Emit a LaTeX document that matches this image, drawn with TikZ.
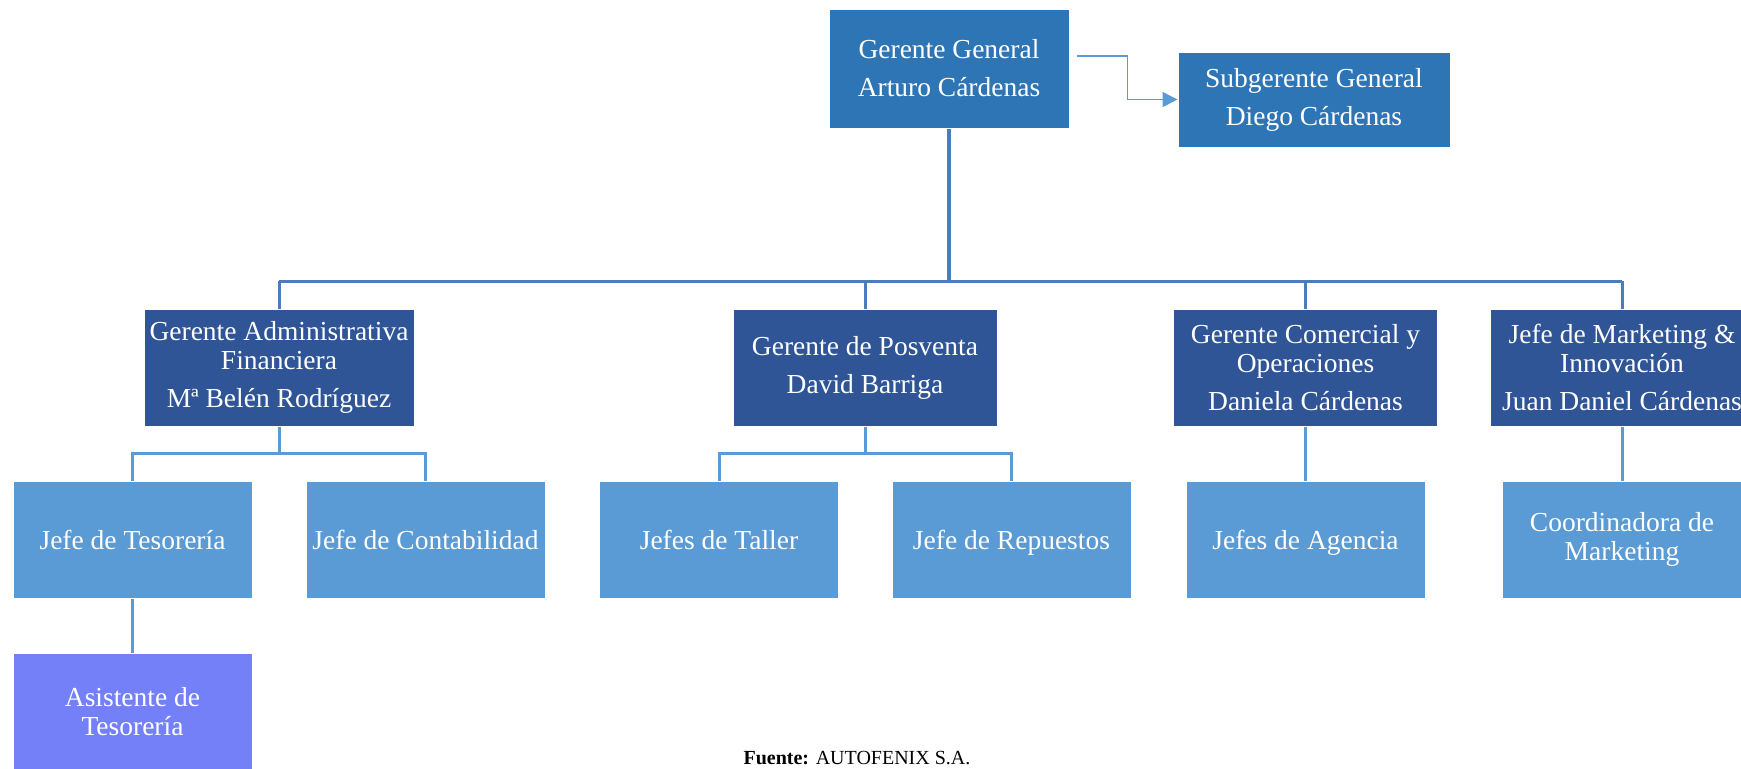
\documentclass[tikz,border=0pt]{standalone}
\usepackage{fontspec}
\setmainfont{Liberation Serif}
\usepackage{xcolor}
\usetikzlibrary{arrows.meta, positioning}

\definecolor{topblue}{HTML}{2E75B6}
\definecolor{midblue}{HTML}{2F5597}
\definecolor{lowblue}{HTML}{5B9BD5}
\definecolor{lilac}{HTML}{7480F8}
\definecolor{linedark}{HTML}{4A7EBB}
\definecolor{linelight}{HTML}{5B9BD5}

\begin{document}
\begin{tikzpicture}[x=0.5pt, y=-0.5pt,
    box/.style={draw=white, line width=0.5pt, text=white, align=center, inner sep=0pt,
        font=\fontsize{13.75}{14.5}\selectfont},
    topbox/.style={box, fill=topblue},
    headbox/.style={box, fill=midblue, minimum width=132pt, minimum height=58.5pt},
    staffbox/.style={box, fill=lowblue, minimum width=119.5pt, minimum height=58.5pt},
    single/.style={execute at begin node=\rule{0pt}{14pt}, execute at end node=\strut},
    trunk/.style={draw=linedark, line width=1.5pt},
    branch/.style={draw=linelight, line width=1.5pt},
    arrowline/.style={draw=linelight, line width=0.75pt, -{Triangle[length=7.5pt, width=7.5pt]}}
  ]
    \useasboundingbox (0,0) rectangle (1741,768);
    \clip (0,0) rectangle (1741,768);

    % Direccion
    \node[topbox, minimum width=120pt, minimum height=59.5pt] (gerente) at (949,68.5)
        {Gerente General\\[4.5pt]Arturo Cárdenas};
    \node[topbox, minimum width=136pt, minimum height=47.5pt] (subgerente) at (1314,99.5)
        {Subgerente General\\[4.5pt]Diego Cárdenas};

    % Gerencias
    \node[headbox, minimum width=135pt] (admin) at (279,367.5)
        {Gerente Administrativa\\Financiera\\[4.5pt]Mª Belén Rodríguez};
    \node[headbox] (posventa) at (865,367.5)
        {Gerente de Posventa\\[4.5pt]David Barriga};
    \node[headbox] (comercial) at (1305.5,367.5)
        {Gerente Comercial y\\Operaciones\\[4.5pt]Daniela Cárdenas};
    \node[headbox] (marketing) at (1622,367.5)
        {Jefe de Marketing \&\\Innovación\\[4.5pt]Juan Daniel Cárdenas};

    % Jefaturas
    \node[staffbox, single] (tesoreria) at (132.5,539.5) {Jefe de Tesorería};
    \node[staffbox, single] (contabilidad) at (425.5,539.5) {Jefe de Contabilidad};
    \node[staffbox, single] (taller) at (719,539.5) {Jefes de Taller};
    \node[staffbox, single] (repuestos) at (1011.5,539.5) {Jefe de Repuestos};
    \node[staffbox, single] (agencia) at (1305.5,539.5) {Jefes de Agencia};
    \node[staffbox] (coordinadora) at (1622,539.5) {Coordinadora de\\Marketing};
    \node[staffbox, fill=lilac] (asistente) at (132.5,712) {Asistente de\\Tesorería};

    % Conectores
    \coordinate (bus) at (0,281);
    \draw[arrowline] ([shift={(7,-12.5)}]gerente.east) -- ++(51,0) |- (subgerente.west);
    \draw[trunk, line width=1.75pt] (gerente.south) -- (gerente.south |- bus);
    \draw[trunk] (admin.north |- bus) -- (marketing.north |- bus);
    \foreach \n in {admin, posventa, comercial, marketing}
        \draw[trunk] (\n.north |- bus) -- (\n.north);

    \path (admin.south) ++(0,27) coordinate (adminfork);
    \path (posventa.south) ++(0,27) coordinate (posventafork);
    \draw[branch] (admin.south) -- (adminfork);
    \draw[branch] (tesoreria.north) |- (adminfork) -| (contabilidad.north);
    \draw[branch] (posventa.south) -- (posventafork);
    \draw[branch] (taller.north) |- (posventafork) -| (repuestos.north);
    \draw[branch] (comercial.south) -- (agencia.north);
    \draw[branch] (marketing.south) -- (coordinadora.north);
    \draw[branch] (tesoreria.south) -- (asistente.north);

    \node[font=\fontsize{10}{12}\selectfont] (fuente) at (857,758)
        {\textbf{Fuente:} AUTOFENIX S.A.};
\end{tikzpicture}
\end{document}
